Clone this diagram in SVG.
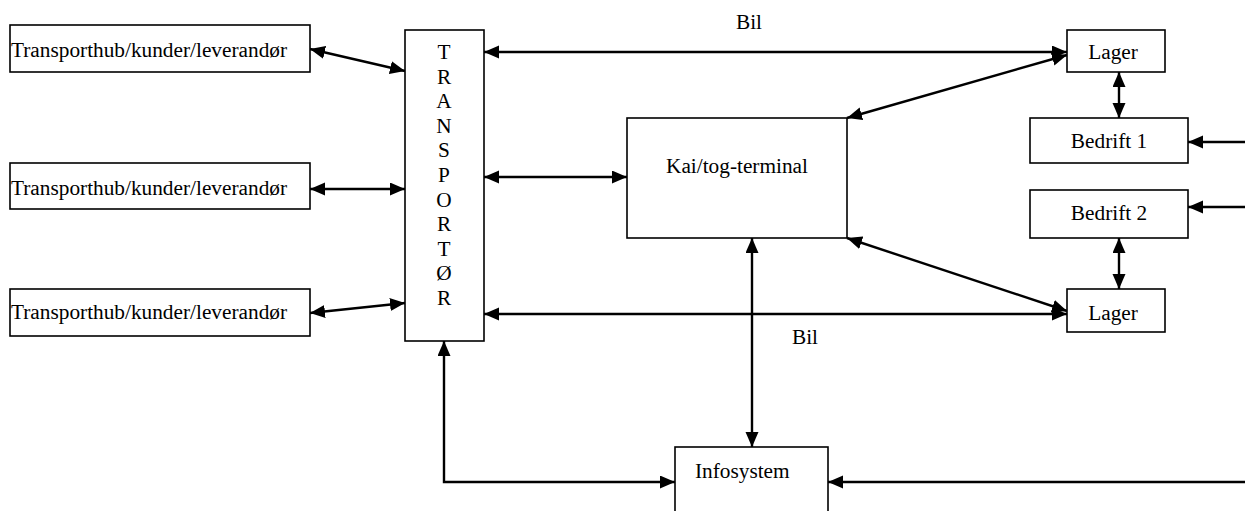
<svg xmlns="http://www.w3.org/2000/svg" width="1245" height="511" viewBox="0 0 1245 511">
  <style>
    .box { fill: #fff; stroke: #000; stroke-width: 1.6; }
    .lbl { font-family: "Liberation Serif", "Times New Roman", "DejaVu Serif", serif; font-size: 21.3px; fill: #000; }
    .mid { text-anchor: middle; }
    .con { fill: none; stroke: #000; stroke-width: 2.4; }
  </style>
  <defs>
    <marker id="arrow" markerUnits="userSpaceOnUse" markerWidth="16" markerHeight="14" refX="15" refY="6.5" orient="auto-start-reverse">
      <path d="M0,0 L15,6.5 L0,13 z" fill="#000"/>
    </marker>
  </defs>

  <rect width="1245" height="511" fill="#fff"/>

  <!-- connectors -->
  <g id="connectors" class="con">
    <line x1="310" y1="49" x2="405" y2="71" marker-start="url(#arrow)" marker-end="url(#arrow)"/>
    <line x1="310" y1="189" x2="405" y2="189" marker-start="url(#arrow)" marker-end="url(#arrow)"/>
    <line x1="310" y1="313" x2="405" y2="303" marker-start="url(#arrow)" marker-end="url(#arrow)"/>
    <line x1="484" y1="52" x2="1067" y2="52" marker-start="url(#arrow)" marker-end="url(#arrow)"/>
    <line x1="484" y1="177" x2="627" y2="177" marker-start="url(#arrow)" marker-end="url(#arrow)"/>
    <line x1="484" y1="314" x2="1067" y2="314" marker-start="url(#arrow)" marker-end="url(#arrow)"/>
    <line x1="1067" y1="55" x2="847" y2="118" marker-start="url(#arrow)" marker-end="url(#arrow)"/>
    <line x1="1067" y1="311" x2="847" y2="238" marker-start="url(#arrow)" marker-end="url(#arrow)"/>
    <line x1="1119" y1="72" x2="1119" y2="118" marker-start="url(#arrow)" marker-end="url(#arrow)"/>
    <line x1="1119" y1="238" x2="1119" y2="289" marker-start="url(#arrow)" marker-end="url(#arrow)"/>
    <line x1="1245" y1="142" x2="1188" y2="142" marker-end="url(#arrow)"/>
    <line x1="1245" y1="207" x2="1188" y2="207" marker-end="url(#arrow)"/>
    <line x1="1245" y1="482" x2="828" y2="482" marker-end="url(#arrow)"/>
    <line x1="752" y1="238" x2="752" y2="447" marker-start="url(#arrow)" marker-end="url(#arrow)"/>
    <polyline points="444,341 444,482 675,482" marker-start="url(#arrow)" marker-end="url(#arrow)"/>
  </g>

  <!-- road labels -->
  <text class="lbl" x="736" y="29">Bil</text>
  <text class="lbl" x="792" y="344">Bil</text>

  <g id="hub1">
    <rect class="box" x="10" y="25" width="300" height="47"/>
    <text class="lbl" x="11" y="57">Transporthub/kunder/leverandør</text>
  </g>
  <g id="hub2">
    <rect class="box" x="10" y="163" width="300" height="46"/>
    <text class="lbl" x="11" y="195">Transporthub/kunder/leverandør</text>
  </g>
  <g id="hub3">
    <rect class="box" x="10" y="289" width="300" height="47"/>
    <text class="lbl" x="11" y="319">Transporthub/kunder/leverandør</text>
  </g>

  <g id="transportor">
    <rect class="box" x="405" y="30" width="79" height="311"/>
    <text class="lbl mid" x="444" y="59">T</text>
    <text class="lbl mid" x="444" y="83.6">R</text>
    <text class="lbl mid" x="444" y="108.2">A</text>
    <text class="lbl mid" x="444" y="132.8">N</text>
    <text class="lbl mid" x="444" y="157.4">S</text>
    <text class="lbl mid" x="444" y="182">P</text>
    <text class="lbl mid" x="444" y="206.6">O</text>
    <text class="lbl mid" x="444" y="231.2">R</text>
    <text class="lbl mid" x="444" y="255.8">T</text>
    <text class="lbl mid" x="444" y="280.4">Ø</text>
    <text class="lbl mid" x="444" y="305">R</text>
  </g>

  <g id="terminal">
    <rect class="box" x="627" y="118" width="220" height="120"/>
    <text class="lbl mid" x="737" y="173">Kai/tog-terminal</text>
  </g>

  <g id="lager1">
    <rect class="box" x="1067" y="30" width="98" height="42"/>
    <text class="lbl mid" x="1113" y="59">Lager</text>
  </g>
  <g id="bedrift1">
    <rect class="box" x="1030" y="118" width="158" height="45"/>
    <text class="lbl mid" x="1109" y="148">Bedrift 1</text>
  </g>
  <g id="bedrift2">
    <rect class="box" x="1030" y="190" width="158" height="48"/>
    <text class="lbl mid" x="1109" y="220">Bedrift 2</text>
  </g>
  <g id="lager2">
    <rect class="box" x="1067" y="289" width="98" height="43"/>
    <text class="lbl mid" x="1113" y="320">Lager</text>
  </g>

  <g id="infosystem">
    <rect class="box" x="675" y="447" width="153" height="70"/>
    <text class="lbl" x="695" y="478">Infosystem</text>
  </g>
</svg>
